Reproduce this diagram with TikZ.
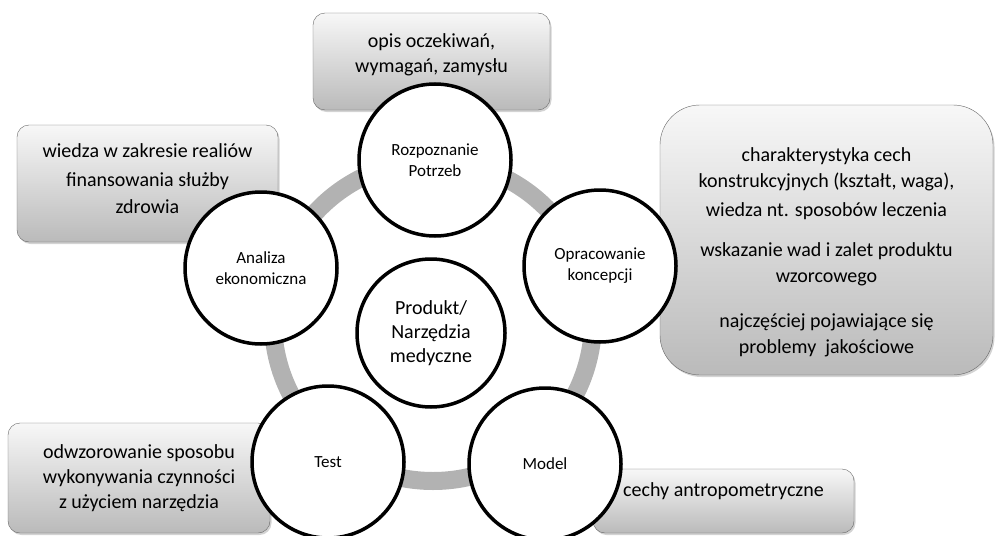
\documentclass[tikz,border=0pt]{standalone}
\usepackage{fontspec}
\setmainfont{Carlito}
\usetikzlibrary{shadows}

\begin{document}
\begin{tikzpicture}[
  x=1pt, y=-1pt,
  phase/.style={circle, draw=black, line width=3.5pt, fill=white,
                minimum size=152pt, inner sep=0pt, align=center,
                font=\fontsize{17}{21}\selectfont},
  core/.style={phase, minimum size=148pt, font=\fontsize{20}{24}\selectfont},
  note/.style={rectangle, rounded corners=12pt, draw=black!60, thin,
               top color=black!3, bottom color=black!27, align=center,
               inner sep=0pt, font=\fontsize{20}{25}\selectfont,
               drop shadow={shadow xshift=1.5pt, shadow yshift=-2pt, opacity=0.35}},
  ring/.style={line width=18pt, draw=black!30}
]
\useasboundingbox (0,0) rectangle (995,535);

\coordinate (hub) at (433,321);
\draw[ring] (hub) circle [radius=160pt];

% notes behind the circles
\node[note, minimum width=237pt, minimum height=97pt] (needsnote) at (431.5,61.5)
  {opis oczekiwań,\\wymagań, zamysłu\rule[-16pt]{0pt}{0pt}};
\node[note, rounded corners=40pt, minimum width=333pt, minimum height=270pt,
      font=\fontsize{20}{26}\selectfont] (conceptnote) at (826.5,240)
  {\rule{0pt}{38pt}charakterystyka cech\\konstrukcyjnych (kształt, waga),\\[3pt]
   wiedza nt. sposobów leczenia\\[14pt]
   wskazanie wad i zalet produktu\\wzorcowego\\[19pt]
   najczęściej pojawiające się\\problemy~ jakościowe};
\node[note, minimum width=261pt, minimum height=117pt] (econnote) at (147.5,183.5)
  {wiedza w zakresie realiów\\[4pt]finansowania służby\\[2pt]zdrowia\rule[-9pt]{0pt}{0pt}};
\node[note, minimum width=262pt, minimum height=110pt] (testnote) at (139,478)
  {odwzorowanie sposobu\\wykonywania czynności\\z użyciem narzędzia};
\node[note, minimum width=261pt, minimum height=64pt] (modelnote) at (723.5,501)
  {cechy antropometryczne\rule[-23pt]{0pt}{0pt}};

% cycle
\node[phase] (needs) at (435,160) {Rozpoznanie\\Potrzeb};
\node[phase] (concept) at (600,266) {Opracowanie\\koncepcji};
\node[phase] (model) at (545,464) {Model};
\node[phase] (test) at (328,462) {Test};
\node[phase] (econ) at (261,268) {Analiza\\ekonomiczna};
\node[core] (product) at (431,333) {Produkt/\\Narzędzia\\medyczne};
\end{tikzpicture}
\end{document}
